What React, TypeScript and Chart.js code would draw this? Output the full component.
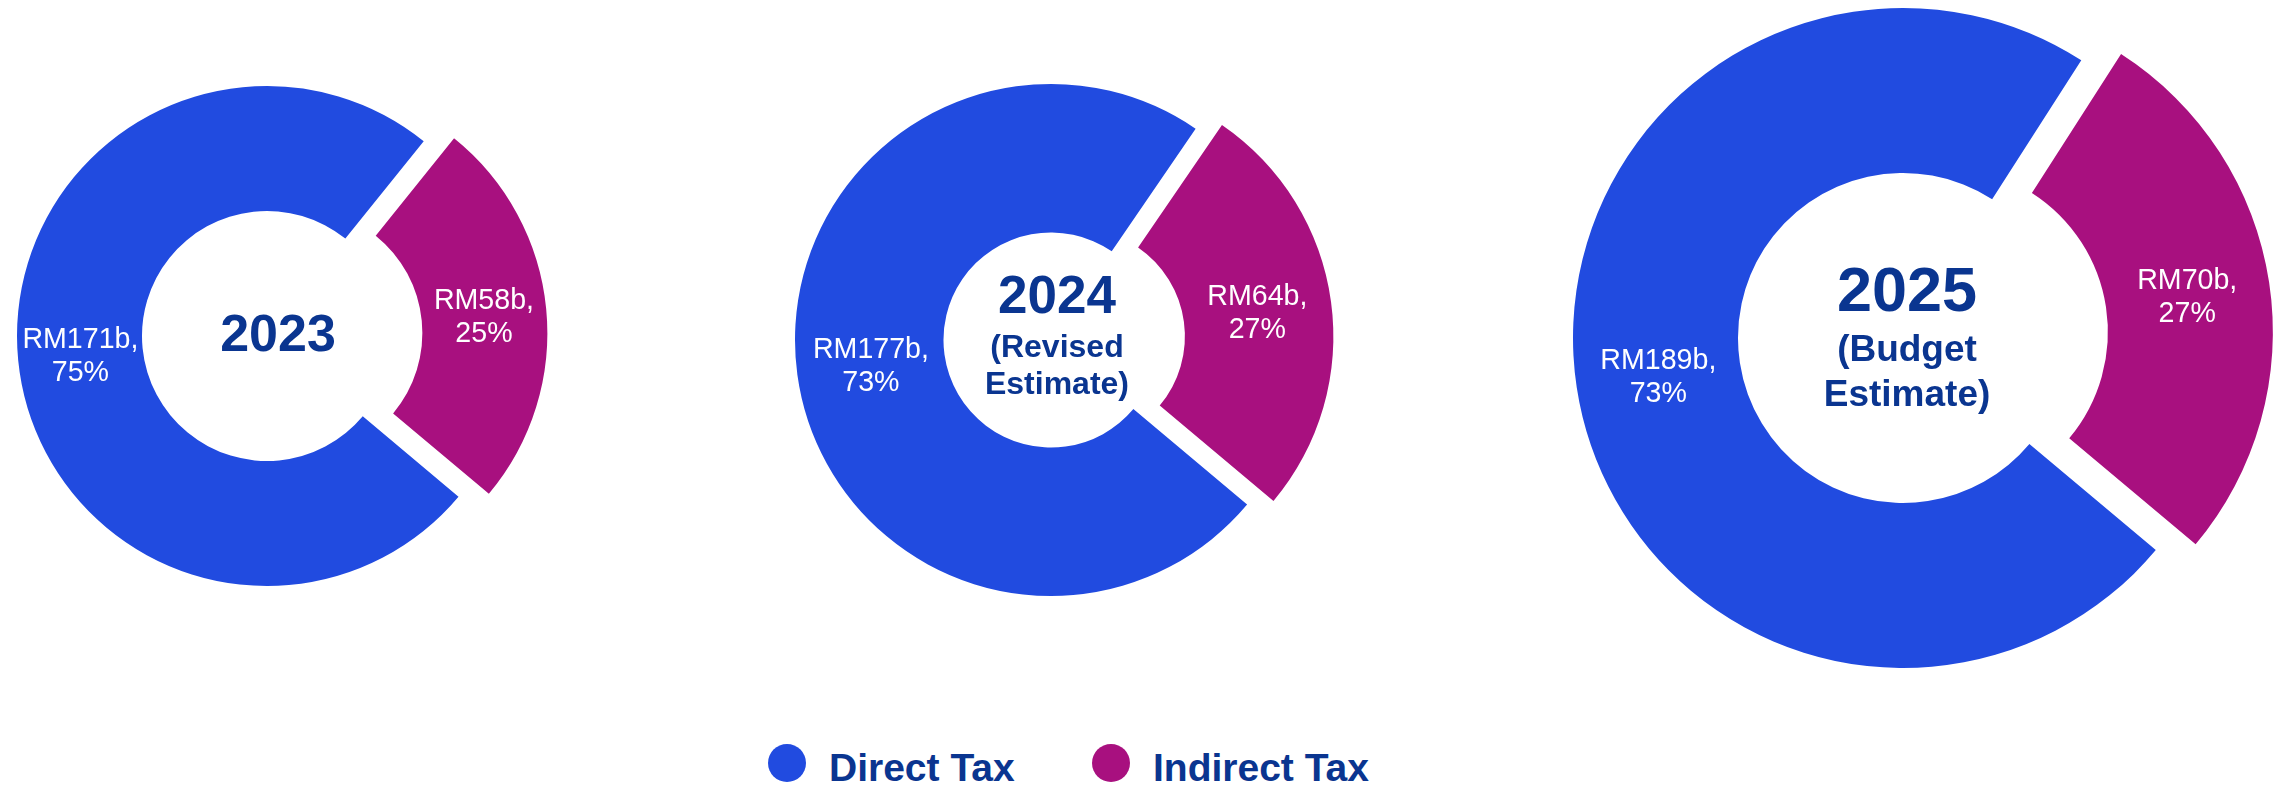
import React, { useEffect, useRef } from 'react';
import { Chart, ArcElement, DoughnutController } from 'chart.js';

Chart.register(ArcElement, DoughnutController);

// ---------- data ----------
const titleLines: string[][] = [
  ['2023'],
  ['2024', '(Revised', 'Estimate)'],
  ['2025', '(Budget', 'Estimate)'],
];
const seriesNames = ['Direct Tax', 'Indirect Tax'];
const directTax = [171, 177, 189]; // RM billion
const indirectTax = [58, 64, 70]; // RM billion
const directPct = [75, 73, 73];
const indirectPct = [25, 27, 27];

// ---------- styles ----------
const BLUE = '#214BE0';
const PURPLE = '#A8107F';
const NAVY = '#0A3590';
const FONT = '"Liberation Sans", Arial, Helvetica, sans-serif';

type TitleStyle = { size: number; dy: number };
const layouts = [
  { cx: 267, cy: 336, r: 250, cutout: '50%', offset: 122, H: 310, tdx: 11, titles: [{ size: 52, dy: 15 }] as TitleStyle[] },
  {
    cx: 1051, cy: 340, r: 256, cutout: '42%', offset: 106, H: 310, tdx: 6,
    titles: [{ size: 53, dy: -27 }, { size: 32, dy: 17 }, { size: 32, dy: 54 }] as TitleStyle[],
  },
  {
    cx: 1903, cy: 338, r: 330, cutout: '50%', offset: 160, H: 390, tdx: 4,
    titles: [{ size: 63, dy: -27 }, { size: 37, dy: 23 }, { size: 37, dy: 68 }] as TitleStyle[],
  },
];

const LABEL_SIZE = 28.6;
const LABEL_LH = 33;

const textPlugin = {
  id: 'donutText',
  afterDatasetsDraw(chart: any, _args: any, opts: any) {
    const ctx: CanvasRenderingContext2D = chart.ctx;
    const meta = chart.getDatasetMeta(0);
    const ds = chart.data.datasets[0];
    ctx.save();
    ctx.textAlign = 'center';
    ctx.textBaseline = 'alphabetic';
    // slice labels
    meta.data.forEach((arc: any, i: number) => {
      const p = arc.getProps(['x', 'y', 'startAngle', 'endAngle', 'innerRadius', 'outerRadius'], true);
      const mid = (p.startAngle + p.endAngle) / 2;
      const off = (Array.isArray(ds.offset) ? ds.offset[i] : 0) / 4;
      const rr = (p.innerRadius + p.outerRadius) / 2;
      const x = p.x + Math.cos(mid) * (rr + off);
      const y = p.y + Math.sin(mid) * (rr + off);
      const lines: string[] = opts.sliceLabels[i];
      ctx.fillStyle = '#FFFFFF';
      ctx.font = `${LABEL_SIZE}px ${FONT}`;
      const cap = LABEL_SIZE * 0.716;
      const n = lines.length;
      lines.forEach((t, k) => {
        const by = y + (k - (n - 1) / 2) * LABEL_LH + cap / 2;
        ctx.fillText(t, x, by);
      });
    });
    // center title
    const c = meta.data[0];
    const cx = c.x + opts.tdx;
    const cy = c.y;
    ctx.fillStyle = NAVY;
    opts.titles.forEach((t: TitleStyle, k: number) => {
      ctx.font = `bold ${t.size}px ${FONT}`;
      ctx.fillText(opts.titleText[k], cx, cy + t.dy);
    });
    ctx.restore();
  },
};

function Donut({ idx }: { idx: number }) {
  const ref = useRef<HTMLCanvasElement | null>(null);
  const L = layouts[idx];
  useEffect(() => {
    if (!ref.current) return;
    const chart = new Chart(ref.current, {
      type: 'doughnut',
      data: {
        labels: seriesNames,
        datasets: [
          {
            data: [directTax[idx], indirectTax[idx]],
            backgroundColor: [BLUE, PURPLE],
            borderWidth: 0,
            offset: [0, L.offset],
            hoverOffset: 0,
          } as any,
        ],
      },
      options: {
        responsive: false,
        animation: false,
        events: [],
        rotation: 130,
        cutout: L.cutout,
        radius: L.r,
        layout: { padding: 0 },
        plugins: {
          legend: { display: false },
          tooltip: { enabled: false },
          donutText: {
            sliceLabels: [
              [`RM${directTax[idx]}b,`, `${directPct[idx]}%`],
              [`RM${indirectTax[idx]}b,`, `${indirectPct[idx]}%`],
            ],
            titleText: titleLines[idx],
            titles: L.titles,
            tdx: L.tdx,
          },
        } as any,
      } as any,
      plugins: [textPlugin as any],
    });
    return () => chart.destroy();
  }, [idx]);
  return (
    <canvas
      ref={ref}
      width={2 * L.H}
      height={2 * L.H}
      style={{ position: 'absolute', left: L.cx - L.H, top: L.cy - L.H, width: 2 * L.H, height: 2 * L.H }}
    />
  );
}

const legendItems = [
  { color: BLUE, cx: 787, textLeft: 829 },
  { color: PURPLE, cx: 1111, textLeft: 1153 },
];

export default function App() {
  return (
    <div
      style={{
        position: 'absolute',
        left: 0,
        top: 0,
        width: 2279,
        height: 793,
        overflow: 'hidden',
        background: '#FFFFFF',
      }}
    >
      {[0, 1, 2].map((i) => (
        <Donut key={i} idx={i} />
      ))}
      {legendItems.map((it, i) => (
        <React.Fragment key={i}>
          <div
            style={{
              position: 'absolute',
              left: it.cx - 19,
              top: 763 - 19,
              width: 38,
              height: 38,
              borderRadius: '50%',
              background: it.color,
            }}
          />
          <div
            style={{
              position: 'absolute',
              left: it.textLeft,
              top: 748,
              font: `bold 39px ${FONT}`,
              lineHeight: '39px',
              color: NAVY,
              whiteSpace: 'nowrap',
            }}
          >
            {seriesNames[i]}
          </div>
        </React.Fragment>
      ))}
    </div>
  );
}
